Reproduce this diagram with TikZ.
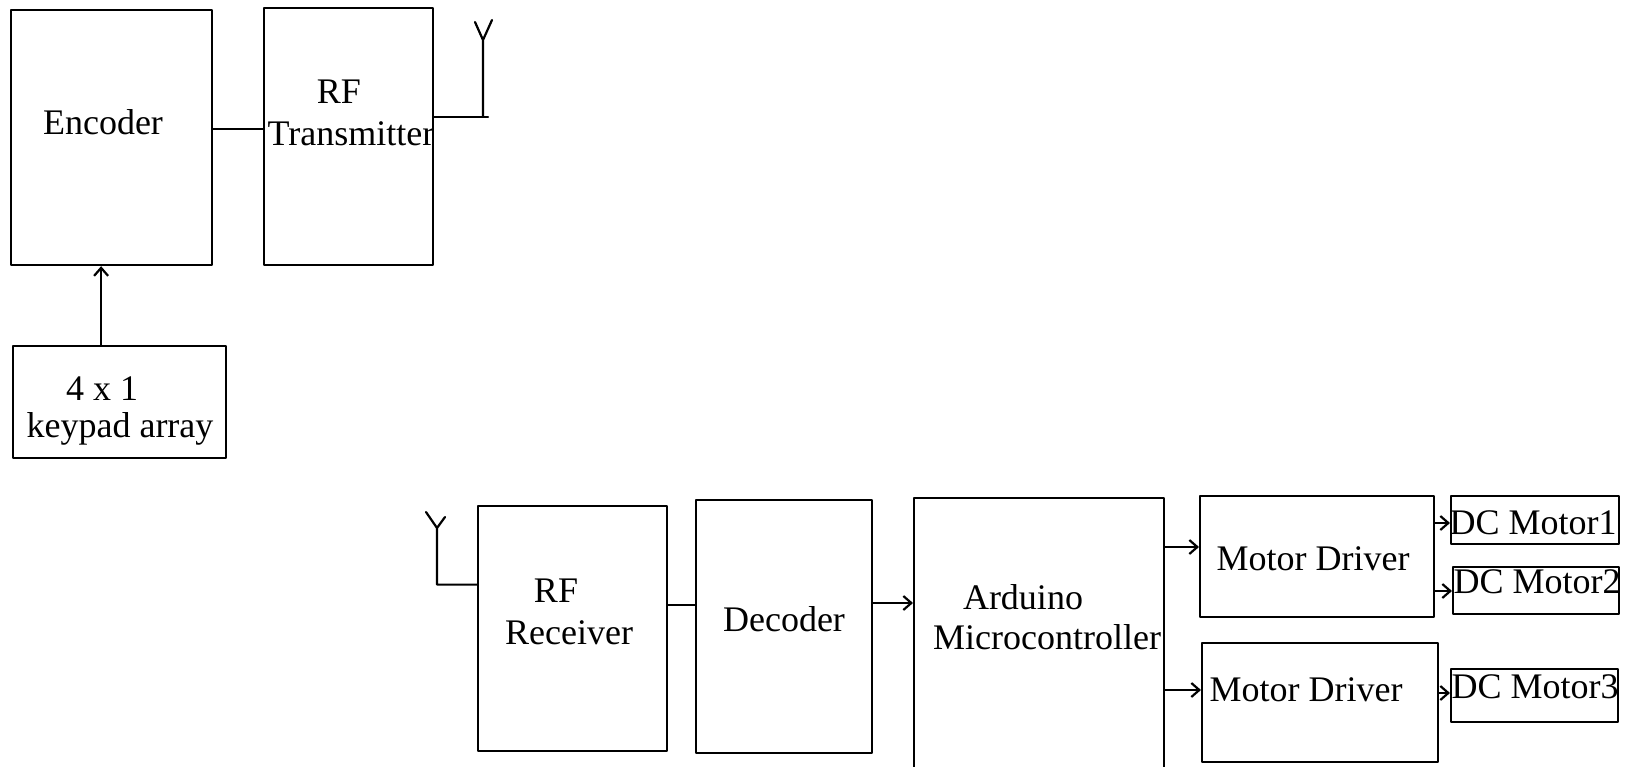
\documentclass[tikz,border=0pt]{standalone}
\usepackage{fontspec}
\setmainfont{Liberation Serif}
\usetikzlibrary{arrows.meta}

\tikzset{
  blk/.style={draw,inner sep=0pt,anchor=north west},
  lbl/.style={inner sep=0pt,font=\fontsize{18}{21}\selectfont},
  arr/.style={-{Straight Barb[length=4pt,width=7pt]}}
}

\begin{document}
\begin{tikzpicture}[x=0.5pt,y=-0.5pt,line width=1.1pt,line cap=round,line join=round]
    \useasboundingbox (0,0) rectangle (1639,766);
    \clip (0,0) rectangle (1639,766);
    % transmitter side
    \node[blk,minimum width=100.5pt,minimum height=127.5pt] (enc) at (10,9) {};
    \node[blk,minimum width=84.5pt,minimum height=128.5pt] (tx) at (263,7) {};
    \node[blk,minimum width=106.5pt,minimum height=56pt] (kp) at (12,345) {};
    \node[lbl] (enc-t) at (103,122) {Encoder};
    \node[lbl] (tx-t1) at (339,92) {RF};
    \node[lbl] (tx-t2) at (351,134) {Transmitter};
    \node[lbl] (kp-t1) at (102,389) {4 x 1};
    \node[lbl] (kp-t2) at (120,429) {keypad array};
    \coordinate (ant1) at (483,40);
    \draw ([yshift=4.5pt]enc.east) -- ([yshift=4.5pt]enc.east -| tx.west);
    \draw ([yshift=10pt]tx.east) -- ([yshift=10pt]tx.east -| 488,0);
    \draw ([yshift=10pt]tx.east -| ant1) -- (ant1) -- ++(-8,-18) (ant1) -- ++(9,-20);
    \draw[arr] ([xshift=-9.25pt]kp.north) -- ([xshift=-9.25pt]kp.north |- enc.south);
    % receiver side
    \node[blk,minimum width=94.5pt,minimum height=122.5pt] (rx) at (477,505) {};
    \node[blk,minimum width=88pt,minimum height=126.5pt] (dec) at (695,499) {};
    \node[blk,minimum width=125pt,minimum height=161.5pt] (ard) at (913,497) {};
    \node[blk,minimum width=117pt,minimum height=60.5pt] (md1) at (1199,495) {};
    \node[blk,minimum width=118pt,minimum height=59.5pt] (md2) at (1201,642) {};
    \node[blk,minimum width=84pt,minimum height=24pt] (dc1) at (1450,495) {};
    \node[blk,minimum width=83pt,minimum height=23.5pt] (dc2) at (1452,566) {};
    \node[blk,minimum width=83.5pt,minimum height=26.5pt] (dc3) at (1450,668) {};
    \node[lbl] (rx-t1) at (556,591) {RF};
    \node[lbl] (rx-t2) at (569,633) {Receiver};
    \node[lbl] (dec-t) at (784,619) {Decoder};
    \node[lbl] (ard-t1) at (1023,597) {Arduino};
    \node[lbl] (ard-t2) at (1047,637) {Microcontroller};
    \node[lbl] (md1-t) at (1313,559) {Motor Driver};
    \node[lbl] (md2-t) at (1306,690) {Motor Driver};
    \node[lbl] (dc1-t) at (1533,523) {DC Motor1};
    \node[lbl] (dc2-t) at (1537,582) {DC Motor2};
    \node[lbl] (dc3-t) at (1535,687) {DC Motor3};
    \coordinate (ant2) at (437,528);
    \draw ([yshift=22pt]rx.west) -- ([yshift=22pt]rx.west -| ant2) -- (ant2) -- ++(-11,-16) (ant2) -- ++(8,-11);
    \draw ([yshift=12pt]rx.east) -- ([yshift=12pt]rx.east -| dec.west);
    \draw[arr] (dec.east |- 0,603) -- (ard.west |- 0,603);
    \draw[arr] (ard.east |- 0,547) -- (md1.west |- 0,547);
    \draw[arr] (ard.east |- 0,690) -- (md2.west |- 0,690);
    \draw[arr] (md1.east |- 0,523) -- (dc1.west |- 0,523);
    \draw[arr] (md1.east |- 0,591) -- (dc2.west |- 0,591);
    \draw[arr] (md2.east |- 0,693) -- (dc3.west |- 0,693);
\end{tikzpicture}
\end{document}
